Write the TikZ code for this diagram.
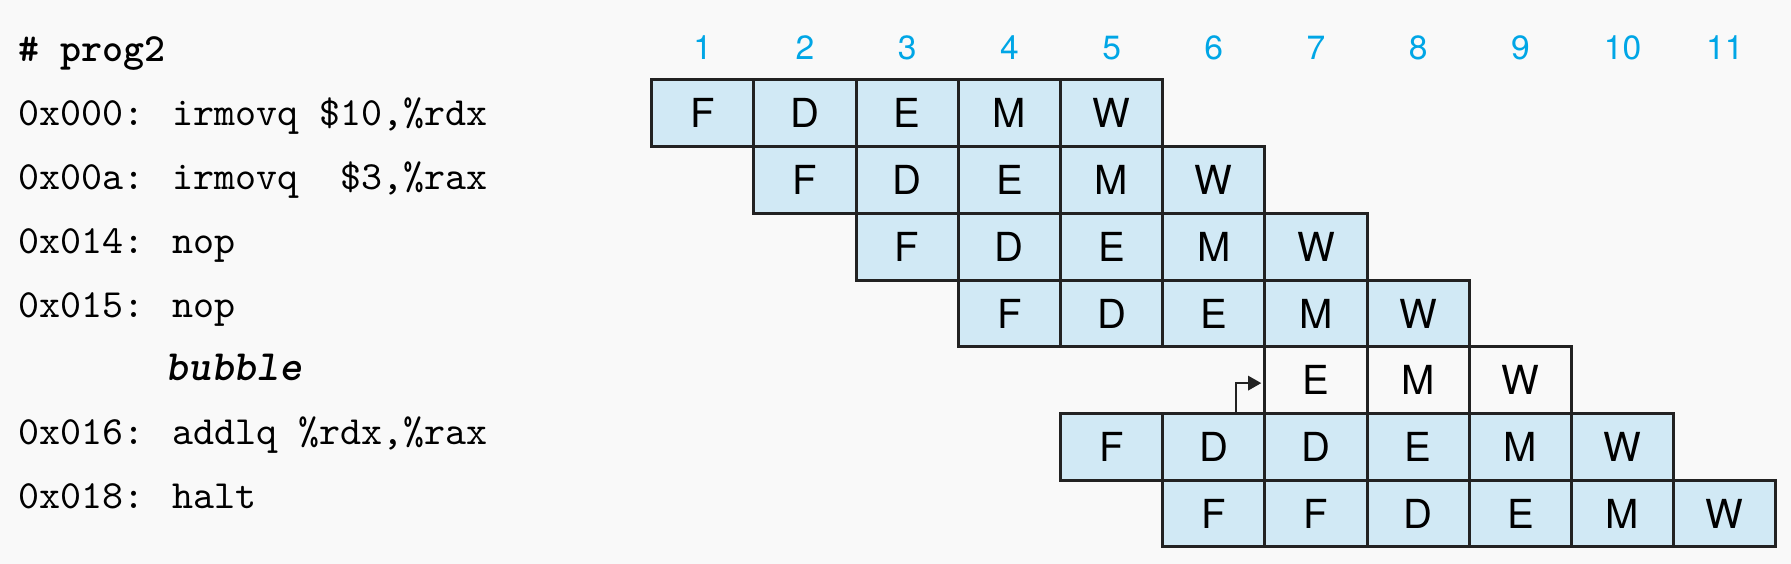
\documentclass[tikz,border=0pt]{standalone}
\usepackage{fontspec}
\usetikzlibrary{arrows.meta}
\newfontfamily\cellfont{TeX Gyre Heros}
\definecolor{cellblue}{HTML}{D1E9F5}
\definecolor{cyclecyan}{HTML}{00A6E6}
\definecolor{bggray}{HTML}{F9F9F9}
\definecolor{linegray}{HTML}{222222}

\begin{document}
\begin{tikzpicture}[x=25.55pt,y=16.675pt,
    stage/.style={draw=linegray,line width=0.75pt,fill=cellblue,minimum width=25.55pt,
      minimum height=16.675pt,inner sep=0pt,outer sep=0pt,font=\cellfont\fontsize{10}{12}\selectfont},
    bubblestage/.style={stage,fill=bggray},
    cyclenum/.style={anchor=base,inner sep=0pt,text=cyclecyan,font=\cellfont\fontsize{8.4}{10}\selectfont},
    code/.style={anchor=base west,inner sep=0pt,font=\ttfamily\fontsize{10}{12}\selectfont}]
  \fill[bggray] (-6.377,-7.256) rectangle (11.148,1.199);
  \useasboundingbox (-6.377,-7.256) rectangle (11.148,1.199);

  % program listing
  \node[code,font=\ttfamily\bfseries\fontsize{10}{12}\selectfont] (title) at (-6.20,0.27) {\# prog2};
  \node[code] (l0) at (-6.20,-0.690) {0x000: irmovq \$10,\%rdx};
  \node[code] (l1) at (-6.20,-1.649) {0x00a: irmovq \phantom{1}\$3,\%rax};
  \node[code] (l2) at (-6.20,-2.609) {0x014: nop};
  \node[code] (l3) at (-6.20,-3.568) {0x015: nop};
  \node[code] (l4) at (-6.20,-4.513) {\phantom{0x015:}\ {\bfseries\itshape\fontsize{10.8}{12}\selectfont bubble}};
  \node[code] (l5) at (-6.20,-5.472) {0x016: addlq \%rdx,\%rax};
  \node[code] (l6) at (-6.20,-6.432) {0x018: halt};

  % clock cycles
  \foreach \c in {1,...,11}
    \node[cyclenum] (cyc\c) at (\c-0.5,0.31) {\c};

  % pipeline stages
  \foreach \row/\first/\stages/\sty in {1/1/{F,D,E,M,W}/stage, 2/2/{F,D,E,M,W}/stage,
      3/3/{F,D,E,M,W}/stage, 4/4/{F,D,E,M,W}/stage, 5/7/{E,M,W}/bubblestage,
      6/5/{F,D,D,E,M,W}/stage, 7/6/{F,F,D,E,M,W}/stage}
    \foreach \s [count=\i from \first] in \stages
      \node[\sty] (r\row-\i) at (\i-0.5,0.5-\row) {\s};

  % stalled decode feeds the bubble
  \draw[linegray,line width=0.5pt,-{Triangle[length=3.3pt,width=3.6pt]}]
    ([xshift=5.5pt]r6-6.north) |- ([xshift=-0.9pt,yshift=-0.75pt]r5-7.west);
\end{tikzpicture}
\end{document}
